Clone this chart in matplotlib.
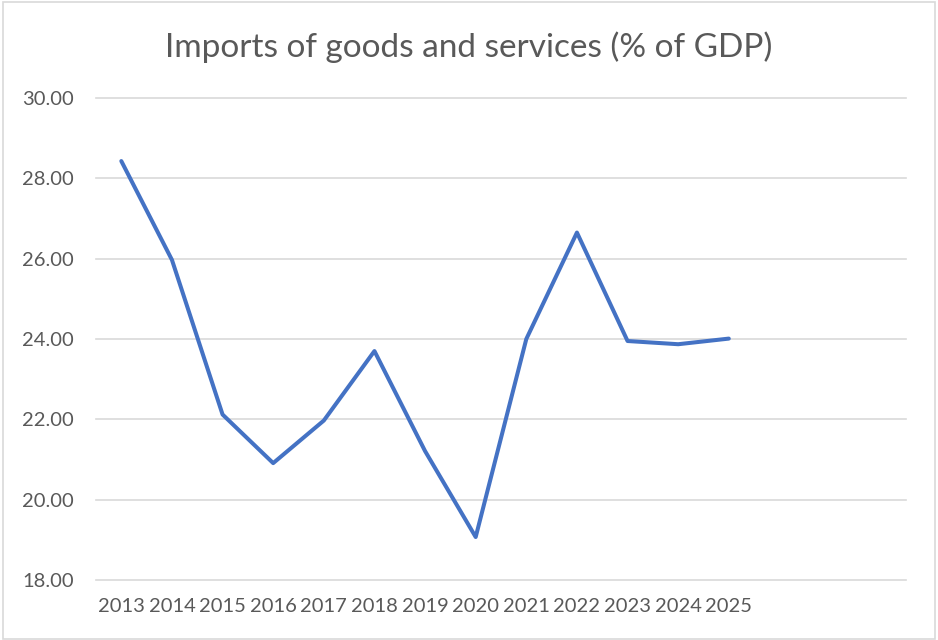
import matplotlib.pyplot as plt
from matplotlib.patches import Rectangle

years = ["2013", "2014", "2015", "2016", "2017", "2018", "2019",
         "2020", "2021", "2022", "2023", "2024", "2025"]
imports_pct = [28.43, 25.97, 22.12, 20.91, 21.97, 23.70, 21.21,
               19.07, 24.00, 26.65, 23.95, 23.87, 24.01]
n_slots = 16  # category axis has room for a few more years
yticks = [18, 20, 22, 24, 26, 28, 30]

plt.rcParams['font.family'] = ['Lato', 'DejaVu Sans']
txt = "#595959"

fig = plt.figure(figsize=(9.38, 6.4), dpi=100)
ax = fig.add_axes([96/938, 1-580/640, 810/938, 482/640])

x = list(range(len(years)))
ax.plot(x, imports_pct, color="#4472C4", lw=2.9, solid_joinstyle="round",
        solid_capstyle="round", zorder=3)

ax.set_xlim(-0.5, n_slots - 0.5)
ax.set_ylim(18, 30)
ax.set_yticks(yticks)
ax.set_yticklabels([f"{v:.2f}" for v in yticks])
ax.set_xticks(x)
ax.set_xticklabels(years)
ax.grid(axis="y", color="#D9D9D9", lw=1.2)
for gl in ax.get_ygridlines():
    gl.set_clip_on(False)
ax.set_axisbelow(True)
for s in ax.spines.values():
    s.set_visible(False)
ax.tick_params(axis="both", length=0, colors=txt, labelsize=14.5)
ax.tick_params(axis="y", pad=16)
ax.tick_params(axis="x", pad=13)

fig.text(0.5, 1-47/640, "Imports of goods and services (% of GDP)",
         ha="center", va="center", fontsize=24, color=txt)

fig.patches.append(Rectangle((3/938, 1/640), 932/938, 637/640,
                             transform=fig.transFigure, fill=False,
                             edgecolor="#D9D9D9", lw=1.2))

fig.savefig("out.png", dpi=100)
